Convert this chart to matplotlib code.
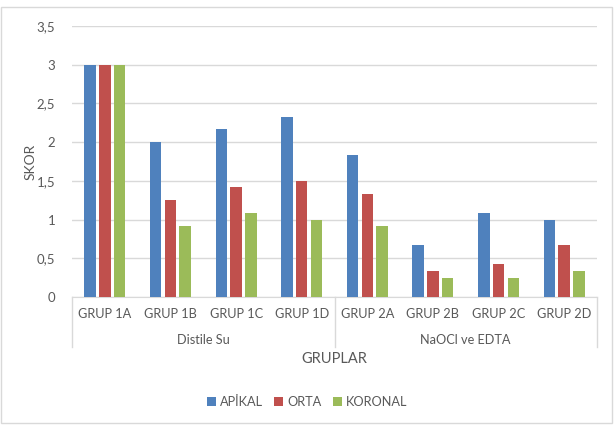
import matplotlib
matplotlib.use("Agg")
import matplotlib.pyplot as plt
import numpy as np
from matplotlib.ticker import FuncFormatter
from matplotlib.patches import Rectangle

categories = ["GRUP 1A", "GRUP 1B", "GRUP 1C", "GRUP 1D",
              "GRUP 2A", "GRUP 2B", "GRUP 2C", "GRUP 2D"]
groups = ["Distile Su", "NaOCl ve EDTA"]
group_sizes = [4, 4]
series_names = ["APİKAL", "ORTA", "KORONAL"]
apikal = [3.0, 2.0, 2.17, 2.33, 1.83, 0.67, 1.08, 1.0]
orta = [3.0, 1.25, 1.42, 1.5, 1.33, 0.33, 0.42, 0.67]
koronal = [3.0, 0.92, 1.08, 1.0, 0.92, 0.25, 0.25, 0.33]
yticks = [0, 0.5, 1, 1.5, 2, 2.5, 3, 3.5]

colors = ["#4F81BD", "#C0504D", "#9BBB59"]
txt = "#595959"
grid = "#D9D9D9"

plt.rcParams['font.family'] = ['Lato', 'DejaVu Sans']

fig = plt.figure(figsize=(6.14, 4.33), dpi=100)
ax = fig.add_axes([72/614, 1-297/433, (597-72)/614, (297-26)/433])

x = np.arange(len(categories))
w = 0.175
off = 0.224
for i, (vals, c, n) in enumerate(zip([apikal, orta, koronal], colors, series_names)):
    ax.bar(x + (i-1)*off, vals, width=w, color=c, label=n, zorder=3)

ax.set_xlim(-0.5, len(categories)-0.5)
ax.set_ylim(0, 3.5)
ax.set_yticks(yticks)
ax.yaxis.set_major_formatter(FuncFormatter(lambda v, p: ("%g" % v).replace(".", ",")))
ax.tick_params(axis='y', length=0, labelsize=9.5, labelcolor=txt, pad=12)
ax.set_xticks([])
ax.grid(axis='y', color=grid, linewidth=1, zorder=0)
for s in ["top", "right", "left"]:
    ax.spines[s].set_visible(False)
ax.spines["bottom"].set_color(grid)

ax.set_ylabel("SKOR", fontsize=10, color=txt)
ax.yaxis.set_label_coords((37-72)/525, 0.5)

trans = ax.get_xaxis_transform()
for xi, c in zip(x, categories):
    ax.text(xi, -17/271, c, transform=trans, ha='center', va='center', fontsize=9.2, color=txt)
bounds = [0]
for gs in group_sizes:
    bounds.append(bounds[-1] + gs)
for b in bounds:
    ax.plot([b-0.5, b-0.5], [0, -50/271], transform=trans, color=grid, lw=1, clip_on=False)
for gi, g in enumerate(groups):
    cx = (bounds[gi] + bounds[gi+1]-1)/2
    ax.text(cx, -43/271, g, transform=trans, ha='center', va='center', fontsize=9.2, color=txt)

ax.text(0.5, -62/271, "GRUPLAR", transform=ax.transAxes, ha='center', va='center', fontsize=10.5, color=txt)

leg = fig.legend(loc='center', bbox_to_anchor=(0.5, 1-402/433), ncol=3, frameon=False,
                 handlelength=0.7, handleheight=0.7, handletextpad=0.3, columnspacing=0.9,
                 fontsize=9.2)
for t in leg.get_texts():
    t.set_color(txt)

fig.patches.append(Rectangle((1/614, 1-423/433), 611/614, 416/433, transform=fig.transFigure,
                             fill=False, edgecolor=grid, lw=1))

fig.savefig("out.png", dpi=100)
